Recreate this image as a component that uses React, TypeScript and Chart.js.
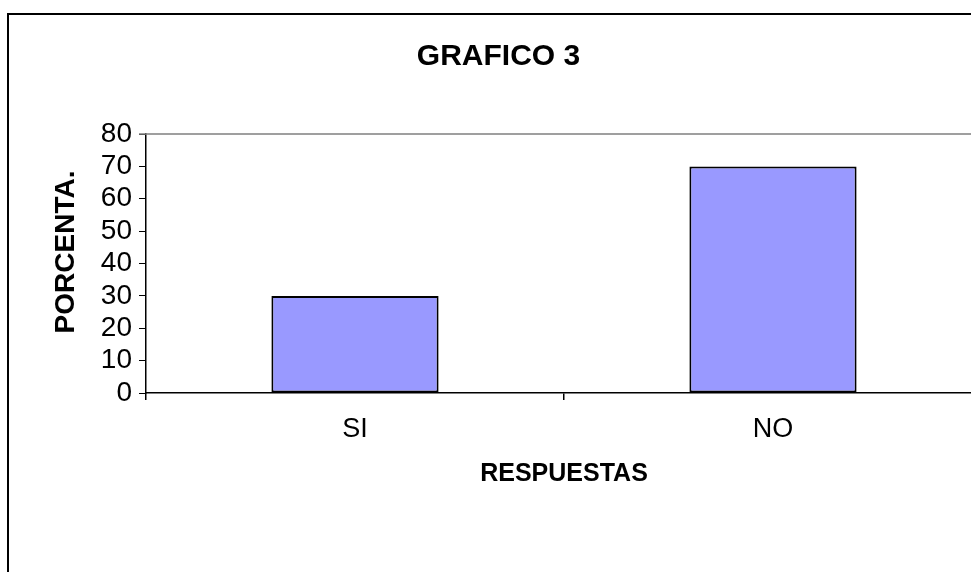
import React, { useEffect, useRef } from "react";
import { Chart, registerables } from "chart.js";

Chart.register(...registerables);

const categories = ["SI", "NO"];
const values = [30, 70];
const titleText = "GRAFICO 3";
const yTitle = "PORCENTA.";
const xTitle = "RESPUESTAS";
const yMax = 80;
const yStep = 10;

const FONT = "'Liberation Sans', Arial, sans-serif";

const plotBorder = {
  id: "plotBorder",
  afterDraw(chart: any) {
    const { ctx, chartArea } = chart;
    ctx.save();
    ctx.strokeStyle = "#808080";
    ctx.lineWidth = 1.5;
    ctx.beginPath();
    ctx.moveTo(chartArea.left - 7, chartArea.top);
    ctx.lineTo(chartArea.right, chartArea.top);
    ctx.lineTo(chartArea.right, chartArea.bottom);
    ctx.stroke();
    // y axis title
    ctx.fillStyle = "#000";
    ctx.font = `bold 28px ${FONT}`;
    ctx.textAlign = "center";
    ctx.textBaseline = "middle";
    ctx.translate(57, 237);
    ctx.rotate(-Math.PI / 2);
    ctx.fillText(yTitle, 0, 0);
    ctx.restore();
  },
};

export default function App() {
  const ref = useRef<HTMLCanvasElement | null>(null);
  useEffect(() => {
    if (!ref.current) return;
    const chart = new Chart(ref.current, {
      type: "bar",
      data: {
        labels: categories,
        datasets: [
          {
            data: values,
            backgroundColor: "#9999FF",
            borderColor: "#000000",
            borderWidth: 2,
            borderSkipped: false,
            categoryPercentage: 1,
            barPercentage: 0.4,
          },
        ],
      },
      options: {
        responsive: false,
        animation: false,
        layout: { padding: { left: 6, right: 6, top: 0, bottom: 122 } },
        plugins: {
          legend: { display: false },
          tooltip: { enabled: false },
          title: {
            display: true,
            text: titleText,
            color: "#000",
            font: { family: FONT, size: 30, weight: "bold" },
            padding: { top: 23.5, bottom: 59.5 },
          },
        },
        scales: {
          x: {
            afterFit: (s: any) => {
              s.height = 100;
            },
            grid: {
              display: true,
              drawOnChartArea: false,
              drawTicks: true,
              tickLength: 7,
              color: "#000",
              offset: true,
              lineWidth: 1.5,
            },
            border: { display: true, color: "#000", width: 1.5 },
            ticks: {
              color: "#000",
              font: { family: FONT, size: 27 },
              padding: 13,
            },
            title: {
              display: true,
              text: xTitle,
              color: "#000",
              font: { family: FONT, size: 25, weight: "bold" },
              padding: { top: 0, bottom: 4 },
            },
          },
          y: {
            min: 0,
            max: yMax,
            afterFit: (s: any) => {
              s.width = 131;
            },
            grid: {
              display: true,
              drawOnChartArea: false,
              drawTicks: true,
              tickLength: 7,
              color: "#000",
            },
            border: { display: true, color: "#000", width: 1.5 },
            ticks: {
              stepSize: yStep,
              autoSkip: false,
              color: "#000",
              font: { family: FONT, size: 28 },
              padding: 7,
            },
            title: { display: false },
          },
        },
      },
      plugins: [plotBorder],
    });
    return () => chart.destroy();
  }, []);

  return (
    <div
      style={{
        position: "fixed",
        left: 0,
        top: 0,
        width: 971,
        height: 572,
        overflow: "hidden",
        background: "#fff",
      }}
    >
      <div
        style={{
          position: "absolute",
          left: 7,
          top: 13,
          width: 979,
          height: 600,
          border: "2px solid #000",
        }}
      >
        <canvas
          ref={ref}
          width={979}
          height={600}
          style={{ display: "block", width: 979, height: 600 }}
        />
      </div>
    </div>
  );
}
